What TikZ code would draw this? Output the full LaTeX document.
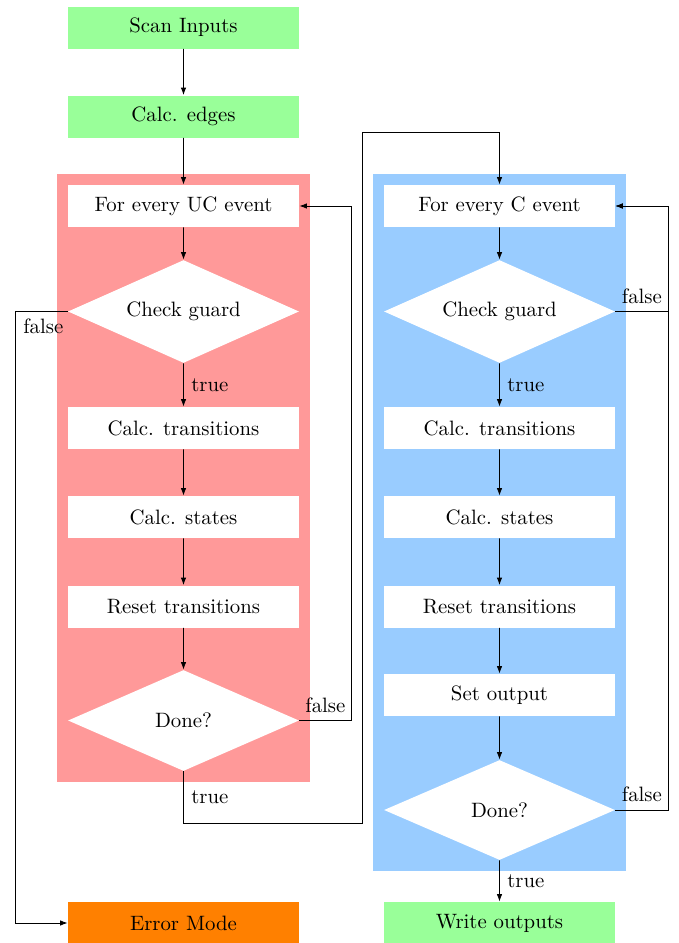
\documentclass[tikz,border=0pt]{standalone}
\usetikzlibrary{shapes.geometric,arrows.meta,fit,backgrounds}
\definecolor{boxgreen}{RGB}{153,255,153}
\definecolor{ucred}{RGB}{255,153,153}
\definecolor{cblue}{RGB}{153,204,255}
\definecolor{errorange}{RGB}{255,128,0}
\begin{document}
\begin{tikzpicture}[x=1pt,y=-1pt,
  blk/.style={scale=2.08, minimum width=111.06pt, minimum height=20.19pt,
    inner sep=0pt, fill=#1},
  blk/.default=white,
  dec/.style={diamond, aspect=2.24, scale=2.08, minimum width=111.06pt,
    minimum height=49.5pt, inner sep=0pt, fill=white},
  lbl/.style={scale=2.08, inner sep=3.33pt},
  flow/.style={line width=0.83pt, -{Latex[length=7.5pt,width=5.5pt]}}]
  \useasboundingbox (0,0) rectangle (678,943);

  % left column: uncontrollable events
  \node[blk=boxgreen] (scan) at (183.5,27.5) {Scan Inputs};
  \node[blk=boxgreen] (edges) at (183.5,116.5) {Calc. edges};
  \node[blk] (uc) at (183.5,206) {For every UC event};
  \node[dec] (ucg) at (183.5,311.5) {Check guard};
  \node[blk] (uct) at (183.5,428) {Calc. transitions};
  \node[blk] (ucs) at (183.5,517) {Calc. states};
  \node[blk] (ucr) at (183.5,606.5) {Reset transitions};
  \node[dec, minimum height=48.56pt] (ucd) at (183.5,720.5) {Done?};
  \node[blk=errorange] (err) at (183.5,923) {Error Mode};

  % right column: controllable events
  \node[blk] (c) at (499.5,206) {For every C event};
  \node[dec] (cg) at (499.5,311.5) {Check guard};
  \node[blk] (ct) at (499.5,428) {Calc. transitions};
  \node[blk] (cs) at (499.5,517) {Calc. states};
  \node[blk] (cr) at (499.5,606.5) {Reset transitions};
  \node[blk] (co) at (499.5,695) {Set output};
  \node[dec, minimum height=48.08pt] (cd) at (499.5,810) {Done?};
  \node[blk=boxgreen] (wr) at (499.5,923) {Write outputs};

  \coordinate (hop) at (362,132);

  \begin{scope}[on background layer]
    \node[fit=(uc)(ucd), inner sep=10.5pt, fill=ucred] (ucbg) {};
    \node[fit=(c)(cd), inner sep=10.5pt, fill=cblue] (cbg) {};
  \end{scope}

  % connectors, left
  \draw[flow] (scan) -- (edges);
  \draw[flow] (edges) -- (uc);
  \draw[flow] (uc) -- (ucg);
  \draw[flow] (ucg) -- node[lbl,right] {true} (uct);
  \draw[flow] (uct) -- (ucs);
  \draw[flow] (ucs) -- (ucr);
  \draw[flow] (ucr) -- (ucd);
  \draw[flow] (ucg.west) -- ++(-52,0) node[lbl,below right] {false} |- (err.west);
  \draw[flow] (ucd.east) -- node[lbl,above] {false} ++(52,0) |- (uc.east);
  \draw[flow] (ucd.south) -- node[lbl,right] {true} ++(0,52) -| (hop) -| (c.north);

  % connectors, right
  \draw[flow] (c) -- (cg);
  \draw[flow] (cg) -- node[lbl,right] {true} (ct);
  \draw[flow] (ct) -- (cs);
  \draw[flow] (cs) -- (cr);
  \draw[flow] (cr) -- (co);
  \draw[flow] (co) -- (cd);
  \draw[flow] (cd) -- node[lbl,right] {true} (wr);
  \draw[flow] (cg.east) -- node[lbl,above] {false} ++(53,0) |- (c.east);
  \draw[flow] (cd.east) -- node[lbl,above] {false} ++(53,0) |- (c.east);
\end{tikzpicture}
\end{document}
